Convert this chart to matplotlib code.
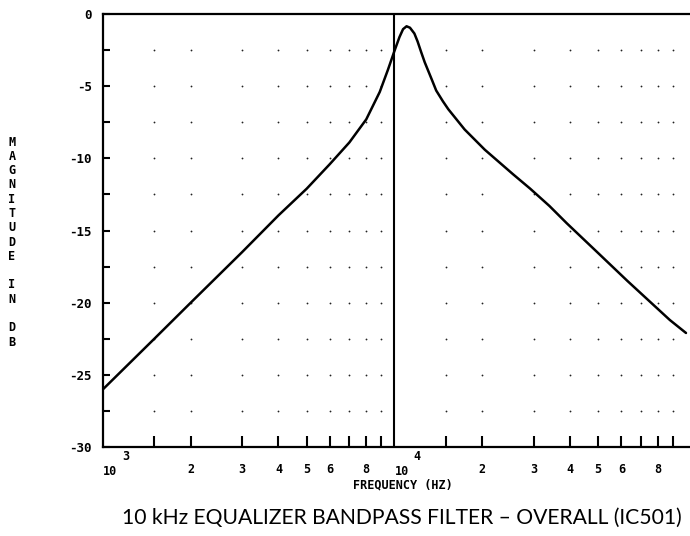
import numpy as np
import matplotlib.pyplot as plt
from matplotlib.transforms import blended_transform_factory

# curve (Hz, dB)
freq_hz = [1000, 1500, 2000, 3000, 4000, 5000, 6000, 7000, 8000, 8900,
           9500, 10000, 10400, 10700, 11000, 11300, 11700, 12000, 12350,
           12700, 13400, 13900, 14660, 15300, 17400, 20400, 25500, 29200,
           34000, 39000, 49000, 63000, 88000, 100000]
mag_db = [-26.0, -22.5, -20.0, -16.5, -13.95, -12.1, -10.4, -8.9, -7.3, -5.4,
          -3.85, -2.55, -1.6, -1.05, -0.85, -0.95, -1.35, -1.9, -2.65,
          -3.35, -4.5, -5.3, -6.05, -6.6, -8.0, -9.4, -11.1, -12.1,
          -13.3, -14.5, -16.4, -18.5, -21.2, -22.1]

cutoff_hz = 10000
y_major = [0, -5, -10, -15, -20, -25, -30]
y_labels = ["0", "-5", "-10", "-15", "-20", "-25", "-30"]
y_dots = [-2.5, -5, -7.5, -10, -12.5, -15, -17.5, -20, -22.5, -25, -27.5]
mults = [1.5, 2, 3, 4, 5, 6, 7, 8, 9]
labelled = [2, 3, 4, 5, 6, 8]
decades = [1e3, 1e4]

ylabel_txt = "MAGNITUDE IN DB"
caption = "10 kHz EQUALIZER BANDPASS FILTER \u2013 OVERALL (IC501)"

mono = "DejaVu Sans Mono"

fig = plt.figure(figsize=(6.9, 5.36), dpi=100)
ax = fig.add_axes([103 / 690, 89 / 536, 587 / 690, 433 / 536])

ax.set_xscale("log")
ax.set_xlim(1e3, 1e5 * 10 ** (4 / 291))
ax.set_ylim(-30, 0)

# dotted grid
xs = [d * m for d in decades for m in mults]
gx, gy = np.meshgrid(xs, y_dots)
ax.plot(gx.ravel(), gy.ravel(), ls="none", marker="o", ms=1.3,
        color="#222222", mec="none")

ax.plot(freq_hz, mag_db, color="black", lw=1.8, solid_capstyle="round",
        solid_joinstyle="round")
ax.axvline(cutoff_hz, color="black", lw=1.5)

ax.spines["right"].set_visible(False)
for s in ["left", "bottom", "top"]:
    ax.spines[s].set_linewidth(1.6)

# y ticks
ax.set_yticks(y_major)
ax.set_yticklabels(y_labels, family=mono, fontsize=9, fontweight="bold")
ax.set_yticks(np.arange(-27.5, 0, 5), minor=True)
ax.tick_params(axis="y", which="both", direction="in", length=5, width=1.5,
               pad=8)

# x ticks
ax.set_xticks(xs)
ax.set_xticklabels([""] * len(xs))
ax.xaxis.set_minor_locator(plt.NullLocator())
ax.tick_params(axis="x", which="both", direction="in", length=8, width=1.5)

tr = blended_transform_factory(ax.transData, ax.transAxes)
for d in decades:
    for m in labelled:
        ax.text(d * m, -0.051, str(m), transform=tr, ha="center", va="center",
                family=mono, fontsize=8.5, fontweight="bold")
    ax.text(d, -0.057, "10", transform=tr, ha="left", va="center",
            family=mono, fontsize=8.5, fontweight="bold")
    ax.text(d * 1.16, -0.022, str(int(np.log10(d))), transform=tr,
            ha="left", va="center", family=mono, fontsize=8.5,
            fontweight="bold")

ax.text(0.511, -0.087, "FREQUENCY (HZ)", transform=ax.transAxes,
        ha="center", va="center", family=mono, fontsize=8.5,
        fontweight="bold")

# stacked y label
y0 = 142
for i, ch in enumerate(ylabel_txt):
    if ch == " ":
        continue
    fig.text(12 / 690, 1 - (y0 + i * 14.3) / 536, ch, ha="center",
             va="center", family=mono, fontsize=8.5, fontweight="bold")

fig.text(402 / 690, 1 - 518 / 536, caption, ha="center", va="center",
         family="Lato", fontsize=15.2)

fig.savefig("out.png", dpi=100)
